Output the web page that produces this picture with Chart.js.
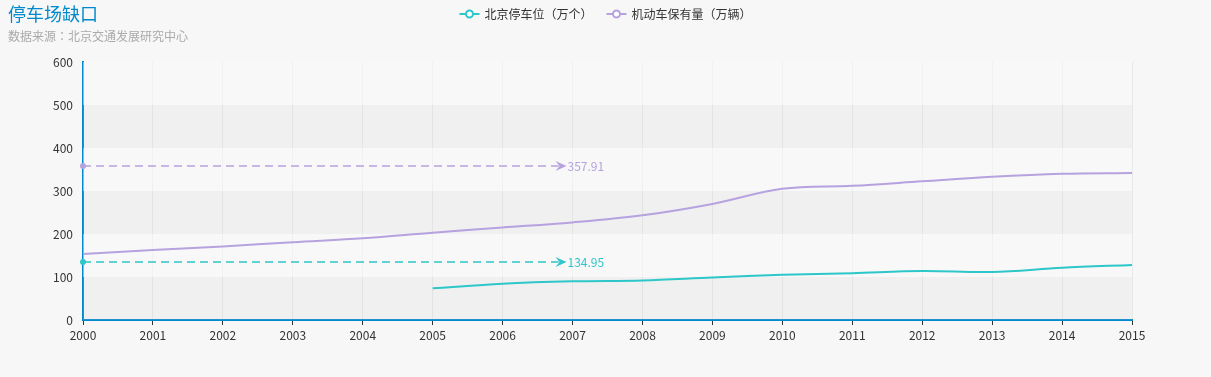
<!DOCTYPE html>
<html>
<head>
<meta charset="utf-8">
<script src="https://cdn.jsdelivr.net/npm/chart.js@4/dist/chart.umd.min.js"></script>
<style>
  body { margin: 0; background: #f7f7f7; }
  #wrap { width: 1211px; height: 377px; position: relative; }
</style>
</head>
<body>
<div id="wrap"><canvas id="chart-parking"></canvas></div>
<script>
// data
var years = ['2000','2001','2002','2003','2004','2005','2006','2007','2008','2009','2010','2011','2012','2013','2014','2015'];
var parking = [null, null, null, null, null, 73.7, 84.5, 90, 92, 99, 105, 109, 114, 111.6, 121.6, 128];
var vehicles = [153.5, 163, 171, 181, 190, 203, 215, 227, 243.5, 270, 305, 312, 322.5, 333, 340, 342];
var seriesNames = ['北京停车位（万个）', '机动车保有量（万辆）'];
var markValues = [134.95, 357.91];
var markFrom = '2000';
var markTo = '2007';
var yMax = 600;
var yStep = 100;

var colors = ['#2ec7c9', '#b6a2de'];
var axisBlue = '#008acd';

Chart.defaults.font.family = '"Microsoft YaHei", "Noto Sans CJK SC", sans-serif';
Chart.defaults.font.size = 12;
Chart.defaults.color = '#333';

var decorations = {
  id: 'decorations',
  beforeDatasetsDraw: function (chart) {
    // alternating split areas
    var ctx = chart.ctx, a = chart.chartArea, y = chart.scales.y;
    ctx.save();
    for (var v = 0, i = 0; v < yMax; v += yStep, i++) {
      var top = y.getPixelForValue(v + yStep), bot = y.getPixelForValue(v);
      ctx.fillStyle = i % 2 == 0 ? 'rgba(200,200,200,0.15)' : 'rgba(250,250,250,0.5)';
      ctx.fillRect(a.left, top, a.right - a.left, bot - top);
    }
    ctx.restore();
  },
  afterDatasetsDraw: function (chart) {
    // mark lines with arrow + label
    var ctx = chart.ctx, x = chart.scales.x, y = chart.scales.y;
    var x0 = x.getPixelForValue(years.indexOf(markFrom));
    var tip = x.getPixelForValue(years.indexOf(markTo)) - 6;
    ctx.save();
    for (var i = 0; i < markValues.length; i++) {
      var py = y.getPixelForValue(markValues[i]);
      ctx.strokeStyle = colors[i];
      ctx.fillStyle = colors[i];
      ctx.lineWidth = 1.5;
      ctx.setLineDash([8, 5]);
      ctx.beginPath();
      ctx.moveTo(x0, py);
      ctx.lineTo(tip - 8, py);
      ctx.stroke();
      ctx.setLineDash([]);
      ctx.beginPath();
      ctx.arc(x0, py, 3, 0, Math.PI * 2);
      ctx.fill();
      ctx.beginPath();
      ctx.moveTo(tip, py);
      ctx.lineTo(tip - 11, py - 5);
      ctx.lineTo(tip - 7, py);
      ctx.lineTo(tip - 11, py + 5);
      ctx.closePath();
      ctx.fill();
      ctx.font = '12px "Microsoft YaHei", "Noto Sans CJK SC", sans-serif';
      ctx.textAlign = 'left';
      ctx.textBaseline = 'middle';
      ctx.fillText(markValues[i].toFixed(2), tip + 1, py);
    }
    ctx.restore();
  },
  afterDraw: function (chart) {
    var ctx = chart.ctx;
    ctx.save();
    ctx.textBaseline = 'top';
    ctx.textAlign = 'left';
    ctx.fillStyle = axisBlue;
    ctx.font = '18px "Microsoft YaHei", "Noto Sans CJK SC", sans-serif';
    ctx.fillText('停车场缺口', 8, 5);
    ctx.fillStyle = '#aaa';
    ctx.font = '12px "Microsoft YaHei", "Noto Sans CJK JP", sans-serif';
    ctx.fillText('数据来源：北京交通发展研究中心', 8, 30);

    // legend, centred at the top
    ctx.font = '12px "Microsoft YaHei", "Noto Sans CJK SC", sans-serif';
    var iconW = 20, gapIcon = 5, gapItem = 14;
    var widths = seriesNames.map(function (s) { return iconW + gapIcon + ctx.measureText(s).width; });
    var total = widths[0] + widths[1] + gapItem;
    var lx = chart.width / 2 - total / 2, ly = 14;
    for (var i = 0; i < seriesNames.length; i++) {
      ctx.strokeStyle = colors[i];
      ctx.lineWidth = 2;
      ctx.beginPath();
      ctx.moveTo(lx, ly); ctx.lineTo(lx + 6, ly);
      ctx.moveTo(lx + 14, ly); ctx.lineTo(lx + iconW, ly);
      ctx.stroke();
      ctx.beginPath();
      ctx.arc(lx + 10, ly, 3.5, 0, Math.PI * 2);
      ctx.fillStyle = '#fff';
      ctx.fill();
      ctx.stroke();
      ctx.fillStyle = '#333';
      ctx.textBaseline = 'middle';
      ctx.fillText(seriesNames[i], lx + iconW + gapIcon, ly);
      lx += widths[i] + gapItem;
    }
    ctx.restore();
  }
};

var ctx = document.getElementById('chart-parking').getContext('2d');
var chart = new Chart(ctx, {
  type: 'line',
  data: {
    labels: years,
    datasets: [
      { label: seriesNames[0], data: parking, borderColor: colors[0], backgroundColor: colors[0],
        borderWidth: 2, pointRadius: 0, tension: 0.35, fill: false },
      { label: seriesNames[1], data: vehicles, borderColor: colors[1], backgroundColor: colors[1],
        borderWidth: 2, pointRadius: 0, tension: 0.35, fill: false }
    ]
  },
  options: {
    responsive: true,
    maintainAspectRatio: false,
    animation: false,
    layout: { padding: { top: 62, left: 0, right: 79, bottom: 27 } },
    plugins: { legend: { display: false }, tooltip: { enabled: false } },
    scales: {
      x: {
        offset: false,
        grid: { color: '#e8e8e8', tickColor: '#333', tickLength: 5 },
        border: { color: axisBlue, width: 2 },
        ticks: { color: '#333', padding: 3, maxRotation: 0, autoSkip: false },
        afterFit: function (s) { s.height = 30; }
      },
      y: {
        min: 0, max: yMax,
        grid: { display: false, drawTicks: false },
        border: { color: axisBlue, width: 2 },
        ticks: { stepSize: yStep, color: '#333', padding: 10 },
        afterFit: function (s) { s.width = 83; }
      }
    }
  },
  plugins: [decorations]
});
</script>
</body>
</html>
